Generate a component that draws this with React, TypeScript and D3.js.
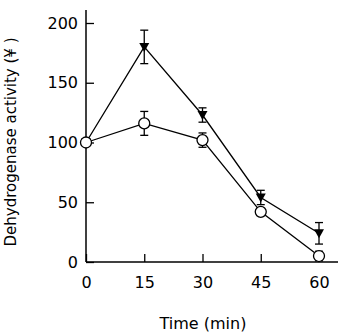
import React, { useRef, useEffect } from "react";
import * as d3 from "d3";

const times = [0, 15, 30, 45, 60];
const triMean = [100, 180, 123, 54, 24];
const triErr = [0, 14, 6, 6, 9];
const circMean = [100, 116, 102, 42, 5];
const circErr = [0, 10, 6, 0, 4];
const xTicks = [0, 15, 30, 45, 60];
const yTicks = [0, 50, 100, 150, 200];

export default function App() {
  const ref = useRef<SVGSVGElement>(null);
  const width = 343;
  const height = 336;
  const font = "DejaVu Sans, Verdana, sans-serif";

  useEffect(() => {
    const svg = d3.select(ref.current);
    svg.selectAll("*").remove();

    const x = d3.scaleLinear().domain([0, 60]).range([86, 319]);
    const y = d3.scaleLinear().domain([0, 200]).range([262, 23]);

    // axis lines, a bit longer than the data range
    svg.append("line")
      .attr("x1", 86).attr("x2", 86).attr("y1", 10).attr("y2", 262)
      .attr("stroke", "#000").attr("stroke-width", 1.5);
    svg.append("line")
      .attr("x1", 86).attr("x2", 338).attr("y1", 262).attr("y2", 262)
      .attr("stroke", "#000").attr("stroke-width", 1.5);

    const yAxis = svg.append("g")
      .attr("transform", "translate(86,0)")
      .call(d3.axisLeft(y).tickValues(yTicks).tickSizeInner(-8).tickSizeOuter(0).tickPadding(8));
    const xAxis = svg.append("g")
      .attr("transform", "translate(0,262)")
      .call(d3.axisBottom(x).tickValues(xTicks).tickSizeInner(-8).tickSizeOuter(0).tickPadding(15));

    [yAxis, xAxis].forEach(a => {
      a.select(".domain").remove();
      a.selectAll("line").attr("stroke-width", 1.3);
      a.selectAll("text").attr("font-size", 16).attr("font-family", font).attr("fill", "#000");
    });

    const line = d3.line<number>()
      .x((d, i) => x(times[i]))
      .y(d => y(d));

    const drawErr = (means: number[], errs: number[]) => {
      means.forEach((m, i) => {
        if (!errs[i]) return;
        const cx = x(times[i]);
        const g = svg.append("g").attr("stroke", "#000").attr("stroke-width", 1.3);
        g.append("line").attr("x1", cx).attr("x2", cx).attr("y1", y(m - errs[i])).attr("y2", y(m + errs[i]));
        g.append("line").attr("x1", cx - 4).attr("x2", cx + 4).attr("y1", y(m + errs[i])).attr("y2", y(m + errs[i]));
        g.append("line").attr("x1", cx - 4).attr("x2", cx + 4).attr("y1", y(m - errs[i])).attr("y2", y(m - errs[i]));
      });
    };

    // triangle series
    svg.append("path").datum(triMean).attr("d", line)
      .attr("fill", "none").attr("stroke", "#000").attr("stroke-width", 1.3);
    drawErr(triMean, triErr);
    svg.selectAll(".tri").data(triMean).enter().append("path")
      .attr("class", "tri")
      .attr("d", "M-5,-4L5,-4L0,5Z")
      .attr("transform", (d, i) => `translate(${x(times[i])},${y(d)})`)
      .attr("fill", "#000");

    // circle series
    svg.append("path").datum(circMean).attr("d", line)
      .attr("fill", "none").attr("stroke", "#000").attr("stroke-width", 1.3);
    drawErr(circMean, circErr);
    svg.selectAll(".circ").data(circMean).enter().append("circle")
      .attr("class", "circ")
      .attr("cx", (d, i) => x(times[i]))
      .attr("cy", d => y(d))
      .attr("r", 5.5)
      .attr("fill", "#fff").attr("stroke", "#000").attr("stroke-width", 1.3);

    svg.append("text")
      .attr("x", 203).attr("y", 329)
      .attr("text-anchor", "middle")
      .attr("font-size", 16).attr("font-family", font)
      .text("Time (min)");

    svg.append("text")
      .attr("transform", "translate(16,142) rotate(-90)")
      .attr("text-anchor", "middle")
      .attr("font-size", 15).attr("font-family", font)
      .text("Dehydrogenase activity (\u00a5 )");
  }, []);

  return (
    <svg ref={ref} width={width} height={height}
      style={{ position: "absolute", left: 0, top: 0, background: "#fff" }} />
  );
}
